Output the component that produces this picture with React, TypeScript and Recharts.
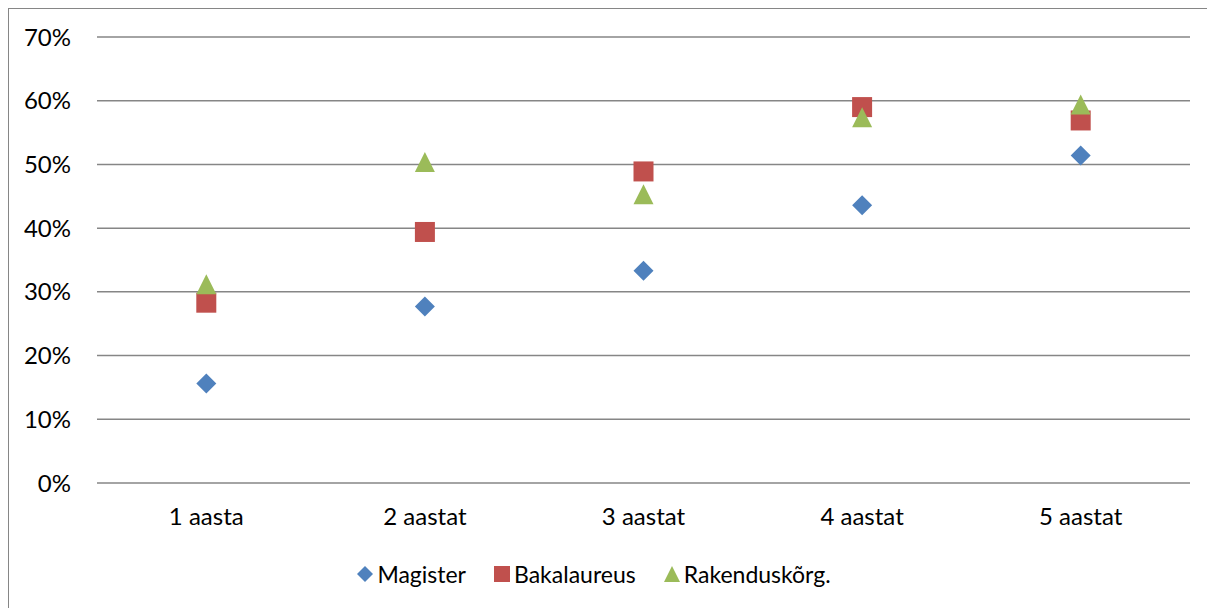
import React from 'react';
import { ComposedChart, Scatter, XAxis, YAxis, CartesianGrid, Legend } from 'recharts';

const categories = ['1 aasta', '2 aastat', '3 aastat', '4 aastat', '5 aastat'];
const magister = [15.6, 27.7, 33.3, 43.6, 51.4];
const bakalaureus = [28.3, 39.4, 48.9, 59.0, 56.9];
const rakenduskorg = [31.2, 50.4, 45.3, 57.4, 59.4];
const yTicks = [0, 10, 20, 30, 40, 50, 60, 70];
const seriesKeys = ['magister', 'bakalaureus', 'rakenduskorg'];
const seriesNames = ['Magister', 'Bakalaureus', 'Rakenduskõrg.'];
const seriesColors = ['#4F81BD', '#C0504D', '#9BBB59'];
const seriesShapes = ['diamond', 'square', 'triangle'];

const data = categories.map((c, i) => ({
  cat: c,
  magister: magister[i],
  bakalaureus: bakalaureus[i],
  rakenduskorg: rakenduskorg[i],
}));

const FONT = 'Lato, "Open Sans", sans-serif';

function Marker({ kind, cx, cy, r, color }: { kind: string; cx: number; cy: number; r: number; color: string }) {
  if (kind === 'diamond') {
    return <polygon points={`${cx},${cy - r} ${cx + r},${cy} ${cx},${cy + r} ${cx - r},${cy}`} fill={color} />;
  }
  if (kind === 'square') {
    return <rect x={cx - r} y={cy - r} width={2 * r} height={2 * r} fill={color} />;
  }
  return <polygon points={`${cx},${cy - r} ${cx + r},${cy + r} ${cx - r},${cy + r}`} fill={color} />;
}

const makeShape = (kind: string, color: string) => (props: any) => {
  const { cx, cy } = props;
  if (cx == null || cy == null) return <g />;
  return <Marker kind={kind} cx={cx} cy={cy} r={10} color={color} />;
};

const LegendContent = () => (
  <div style={{ display: 'flex', justifyContent: 'center', alignItems: 'center', fontFamily: FONT, fontSize: 23, color: '#000' }}>
    {seriesNames.map((n, i) => (
      <div key={n} style={{ display: 'flex', alignItems: 'center', marginRight: i < seriesNames.length - 1 ? 28 : 0 }}>
        <svg width={16} height={16} style={{ marginRight: 4 }}>
          <Marker kind={seriesShapes[i]} cx={8} cy={8} r={8} color={seriesColors[i]} />
        </svg>
        <span>{n}</span>
      </div>
    ))}
  </div>
);

export default function App() {
  return (
    <div style={{ width: 1206, height: 599, borderTop: '1px solid #868686', borderLeft: '1px solid #868686', background: '#fff' }}>
      <ComposedChart width={1206} height={599} data={data} margin={{ top: 28, right: 25, bottom: 95, left: 0 }}>
        <CartesianGrid vertical={false} stroke="#868686" strokeWidth={1.5} />
        <XAxis
          dataKey="cat"
          type="category"
          scale="point"
          padding={{ left: 109.3, right: 109.3 }}
          axisLine={false}
          tickLine={false}
          tickSize={0}
          tickMargin={25}
          height={30}
          interval={0}
          tick={{ fontFamily: FONT, fontSize: 24, fill: '#000' }}
        />
        <YAxis
          type="number"
          domain={[0, 70]}
          ticks={yTicks}
          width={88}
          axisLine={false}
          tickLine={false}
          tickSize={0}
          tickMargin={26}
          tickFormatter={(v: number) => `${v}%`}
          tick={{ fontFamily: FONT, fontSize: 24, fill: '#000' }}
        />
        {seriesKeys.map((k, i) => (
          <Scatter
            key={k}
            dataKey={k}
            name={seriesNames[i]}
            fill={seriesColors[i]}
            shape={makeShape(seriesShapes[i], seriesColors[i])}
            isAnimationActive={false}
          />
        ))}
        <Legend
          layout="horizontal"
          verticalAlign="middle"
          align="center"
          content={LegendContent}
          wrapperStyle={{ top: 551, left: 0, width: 1170, height: 30 }}
        />
      </ComposedChart>
    </div>
  );
}
